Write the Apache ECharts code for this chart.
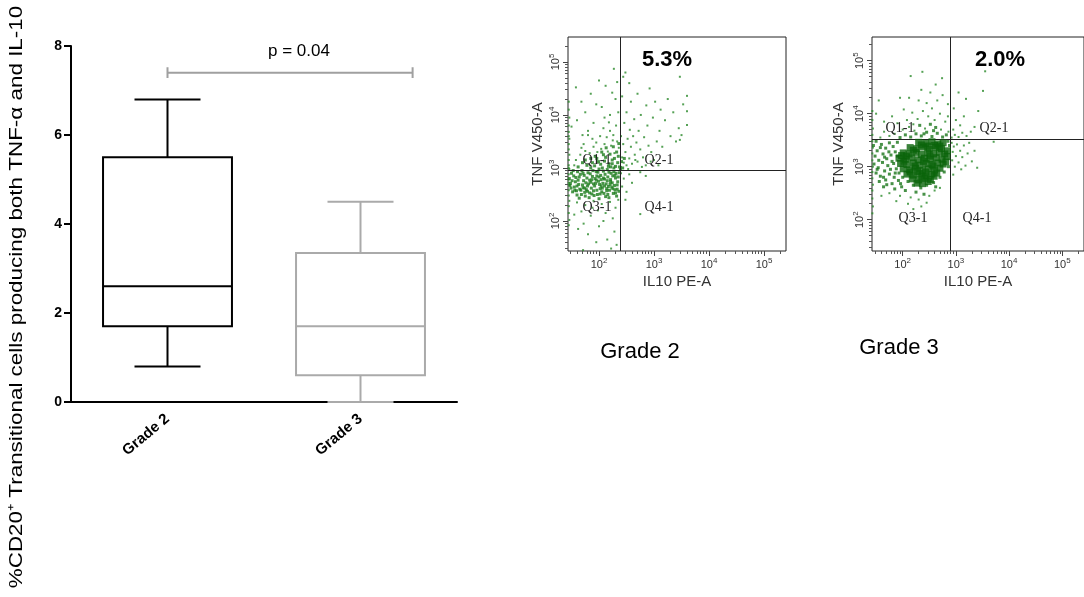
<!DOCTYPE html>
<html>
<head>
<meta charset="utf-8">
<script src="https://cdn.jsdelivr.net/npm/echarts@6/dist/echarts.min.js"></script>
<style>
  html, body { margin: 0; padding: 0; background: #fff; }
  #chart { width: 1084px; height: 597px; }
</style>
</head>
<body>
<div id="chart"></div>
<script>
// ---- Box plot: % CD20+ transitional cells producing TNF-a and IL-10 ----
const categories = ['Grade 2', 'Grade 3'];
// min, Q1, median, Q3, max
const boxStats = [
  [0.8, 1.7, 2.6, 5.5, 6.8],
  [0.0, 0.6, 1.7, 3.35, 4.5]
];
const boxColors = ['#000000', '#aaaaaa'];
const yTickMax = 8;
const yTickStep = 2;
const pText = 'p = 0.04';
const bracketLevel = 7.4;
const bracketEnds = [0, 1.27];

// ---- Flow plots (log10 fluorescence: [IL10 PE-A, TNF V450-A]) ----
const panelTitles = ['Grade 2', 'Grade 3'];
const doublePositive = ['5.3%', '2.0%'];
const quadrantNames = ['Q1-1', 'Q2-1', 'Q3-1', 'Q4-1'];
const gateG2 = [240, 890];
const gateG3 = [795, 3310];

const g2Core = [
  [1.50,2.90],[1.58,2.82],[1.66,2.88],[1.72,2.76],[1.80,2.91],[1.88,2.84],[1.95,2.93],[2.03,2.86],[2.10,2.79],[2.18,2.92],[2.25,2.85],[2.31,2.90],
  [1.48,2.71],[1.55,2.64],[1.62,2.77],[1.70,2.68],[1.77,2.59],[1.85,2.73],[1.92,2.66],[1.99,2.75],[2.06,2.62],[2.13,2.70],[2.21,2.78],[2.28,2.67],[2.34,2.74],
  [1.52,2.55],[1.60,2.49],[1.67,2.58],[1.75,2.47],[1.83,2.53],[1.90,2.57],[1.97,2.50],[2.05,2.55],[2.12,2.46],[2.19,2.58],[2.26,2.52],[2.33,2.60],
  [1.46,2.80],[1.53,2.95],[1.63,2.69],[1.69,2.95],[1.78,2.81],[1.86,2.62],[1.93,2.80],[2.01,2.69],[2.08,2.94],[2.16,2.83],[2.23,2.64],[2.30,2.81],[2.36,2.56],
  [1.57,2.74],[1.65,2.60],[1.73,2.86],[1.81,2.70],[1.89,2.95],[1.96,2.58],[2.04,2.78],[2.11,2.88],[2.17,2.65],[2.24,2.72],[2.32,2.47],
  [1.49,2.62],[1.59,2.57],[1.68,2.50],[1.76,2.72],[1.84,2.89],[1.91,2.48],[2.00,2.83],[2.07,2.71],[2.14,2.57],[2.22,2.90],[2.29,2.59],[2.35,2.83],
  [1.54,2.85],[1.61,2.93],[1.71,2.63],[1.79,2.66],[1.87,2.78],[1.94,2.71],[2.02,2.61],[2.09,2.52],[2.15,2.76],[2.20,2.69],[2.27,2.93],[1.74,2.54],
  [1.98,2.92],[2.10,2.66],[1.82,2.44],[2.00,2.42],[1.64,2.43],[2.18,2.44],
  [1.51,2.76],[1.56,2.58],[1.64,2.83],[1.71,2.90],[1.79,2.56],[1.83,2.77],[1.90,2.70],[1.96,2.85],[2.04,2.66],[2.08,2.81],[2.14,2.61],[2.21,2.74],
  [2.25,2.61],[2.29,2.86],[2.33,2.68],[2.37,2.91],[1.47,2.67],[1.60,2.66],[1.74,2.62],[1.87,2.51],[1.95,2.77],[2.02,2.51],[2.16,2.50],[2.30,2.53],
  [1.62,3.02],[1.70,3.10],[1.78,3.05],[1.85,3.18],[1.92,3.04],[1.99,3.12],[2.06,3.00],[2.12,3.20],[2.18,3.08],[2.24,3.15],[2.30,3.03],[2.35,3.22],
  [2.00,2.98],[2.15,2.97],[2.27,3.00],[1.93,3.22],[2.08,3.25],[2.34,3.10],[1.85,3.00],
  [1.88,3.10],[1.96,3.18],[2.03,3.07],[2.10,3.13],[2.21,3.02],[2.28,3.18],[2.32,3.30],[2.20,3.26],[2.13,3.38],[2.26,3.40],[2.36,3.46],[2.05,3.30],
  [1.75,3.15],[2.17,3.03],[2.37,3.02],[2.24,3.08],[2.39,2.97],[2.41,3.12],[2.43,3.00],[2.46,3.18]
];
const g2Cells = [
  // Q1, above the gate
  [1.66,3.25],[1.75,3.32],[1.83,3.28],[1.90,3.40],[1.97,3.30],[2.04,3.36],[2.10,3.45],[2.16,3.31],[2.22,3.42],[2.28,3.28],[2.33,3.50],
  [1.58,3.15],[1.88,3.55],[2.02,3.60],[2.14,3.58],[2.26,3.62],[2.36,3.38],[1.72,3.45],[1.95,3.48],[2.20,3.70],[2.31,3.80],[2.08,3.75],[1.80,3.62],
  [2.25,3.52],[1.55,3.05],[1.68,3.38],
  [1.60,3.90],[1.75,4.05],[1.90,3.85],[2.05,4.15],[2.20,4.00],[2.30,4.30],[1.68,4.25],[1.85,4.40],[2.12,4.55],[2.27,4.87],[1.95,4.20],[2.35,4.05],
  [1.58,4.52],[2.10,3.95],[2.24,4.42],[1.80,3.70],[2.00,4.65],[2.33,4.62],[1.70,3.62],[2.18,3.86],[1.50,3.78],
  // Q2
  [2.40,3.02],[2.45,3.10],[2.50,3.05],[2.42,3.20],[2.55,3.18],[2.60,3.08],[2.48,3.30],[2.65,3.25],[2.58,3.40],[2.70,3.12],[2.44,3.45],[2.52,3.55],
  [2.75,3.35],[2.62,3.60],[2.80,3.20],[2.68,3.48],[2.85,3.05],[2.40,3.60],[2.90,3.42],[2.56,3.72],[2.72,3.70],[2.95,3.30],[2.46,3.85],[2.82,3.58],
  [3.00,3.15],[2.64,3.92],[2.88,3.80],[3.05,3.50],[2.50,4.05],[2.76,4.00],[2.98,3.95],[3.10,3.70],[2.58,4.25],[2.86,4.18],[3.15,3.40],[2.42,4.35],
  [2.70,4.40],[3.02,4.25],[3.20,3.90],[2.55,4.60],[2.92,4.50],[3.30,3.60],[2.44,4.72],[3.25,4.30],[3.40,3.50],[3.53,4.20],[3.60,4.36],[3.45,3.75],
  [3.60,3.81],[3.35,4.05],[2.48,4.80],[3.12,4.10],[2.66,3.15],[2.78,3.02],[2.53,2.98],[3.08,3.05],[2.94,3.12],[3.47,4.72],[3.60,4.07],[3.50,3.62],
  [3.47,3.53],
  // Q3, below the core
  [1.60,2.35],[1.75,2.30],[1.90,2.38],[2.05,2.32],[2.20,2.36],[2.30,2.25],[1.68,2.18],[1.85,2.10],[2.12,2.15],[2.25,2.05],[1.72,1.95],[2.00,1.90],
  [2.28,1.80],[1.80,1.75],[2.15,1.65],[2.32,1.55],[1.95,1.60],[1.62,1.85],[2.22,1.48],[1.88,2.25],[2.08,2.00],[1.55,2.12],[2.35,2.40],[1.98,2.20],
  [1.71,1.45],
  // Q4
  [2.40,2.90],[2.45,2.80],[2.42,2.65],[2.55,2.88],[2.60,2.72],[2.75,2.92],[2.50,2.55],[2.85,2.85],[2.48,2.40],[2.75,2.13],
  // events piled on the low IL10 edge
  [1.45,4.25],[1.45,4.10],[1.46,3.95],[1.45,3.80],[1.45,3.68],[1.46,3.55],[1.45,3.45],[1.45,3.35],[1.46,3.25],[1.45,3.15],[1.45,3.05],[1.46,2.98],
  [1.45,2.88],[1.45,2.78],[1.46,2.68],[1.45,2.58],[1.45,2.48],[1.46,2.38],[1.45,2.28],[1.45,2.15],[1.46,2.02],[1.45,1.92],[1.45,3.60],[1.45,3.00],
  [1.45,2.72]
];

const g3Core = [
  [2.30,3.46],[2.43,3.44],[2.55,3.47],[2.66,3.43],[2.76,3.45],
  [2.14,3.36],[2.26,3.34],[2.39,3.37],[2.50,3.33],[2.62,3.36],[2.73,3.34],
  [2.01,3.26],[2.12,3.24],[2.25,3.27],[2.35,3.23],[2.47,3.26],[2.58,3.24],[2.69,3.27],[2.79,3.24],
  [1.93,3.16],[2.05,3.14],[2.17,3.17],[2.29,3.13],[2.41,3.16],[2.52,3.14],[2.63,3.17],[2.74,3.14],
  [1.96,3.06],[2.08,3.04],[2.20,3.07],[2.32,3.03],[2.44,3.06],[2.55,3.04],[2.66,3.07],[2.76,3.05],
  [2.01,2.96],[2.13,2.94],[2.24,2.97],[2.37,2.93],[2.48,2.96],[2.60,2.94],[2.70,2.97],
  [2.08,2.86],[2.20,2.84],[2.32,2.87],[2.44,2.83],[2.55,2.86],[2.64,2.88],
  [2.18,2.77],[2.30,2.75],[2.42,2.78],[2.52,2.76],
  [2.27,2.69],[2.37,2.68],
  [2.07,3.20],[2.20,3.31],[2.35,3.41],[2.47,3.39],[2.60,3.40],[2.70,3.39],[2.84,3.30],[2.83,3.19],[2.81,3.09],[2.23,3.01],[2.39,3.10],[2.51,3.20],
  [2.57,3.01],[2.28,2.91],[2.43,2.90],[2.59,2.82],[2.14,2.90],[2.02,3.10],[1.98,3.21],[2.36,2.81],[2.48,2.72]
];
const g3Mid = [
  [1.45,3.40],[1.52,3.30],[1.60,3.42],[1.68,3.35],[1.75,3.45],[1.82,3.38],[1.90,3.46],
  [1.48,3.20],[1.55,3.12],[1.63,3.24],[1.70,3.15],[1.78,3.22],[1.86,3.28],
  [1.46,3.05],[1.54,2.98],[1.62,3.08],[1.72,3.02],[1.80,3.10],[1.88,2.96],
  [1.50,2.88],[1.58,2.82],[1.66,2.92],[1.75,2.86],[1.84,2.80],[1.93,2.88],
  [1.56,2.72],[1.68,2.75],[1.80,2.68],[1.92,2.74],[2.00,2.80],[2.10,2.72],[2.20,2.65],[2.34,2.60],[2.45,2.65],[2.58,2.70],[2.70,2.80],
  [2.78,2.90],[2.86,3.00],[2.88,3.40],[2.85,3.48],[2.62,2.62],
  [1.64,2.62],[1.85,2.58],[1.98,2.62],[2.05,2.55],[2.25,2.52],[2.40,2.48],
  [1.95,3.55],[2.05,3.60],[2.15,3.56],[2.25,3.62],[2.35,3.58],[2.45,3.65],[2.55,3.57],[2.65,3.63],[2.75,3.56],[2.82,3.60],
  [2.40,3.62],[2.58,3.68],[2.32,3.78],[2.52,3.80],[2.62,3.74],
  [1.50,3.48],[1.58,3.36],[1.66,3.18],[1.74,3.28],[1.83,3.06],[1.90,3.20],[1.52,2.95],[1.64,2.80],[1.77,2.95],[1.86,2.88],[1.70,2.66],[1.96,2.68]
];
const g3Cells = [
  // Q1
  [2.00,3.70],[2.12,3.75],[2.22,3.68],[2.42,3.72],[2.72,3.70],[2.86,3.66],
  [1.85,3.62],[1.75,3.58],[1.65,3.66],[1.58,3.55],[1.90,3.82],[2.08,3.88],[2.28,3.90],[2.48,3.95],[2.60,3.88],[2.80,3.85],
  [2.18,4.02],[2.38,4.05],[2.55,4.10],[2.70,4.00],[2.02,4.08],[1.80,3.95],[2.45,4.20],[2.65,4.25],[2.30,4.25],[2.85,4.18],[2.12,4.30],[1.65,3.85],
  [1.50,4.00],[2.52,4.40],[2.75,4.35],[2.35,4.45],[1.95,4.30],[2.62,4.55],[2.15,4.71],[2.37,4.79],[2.74,4.67],[1.55,4.25],[2.85,3.95],[2.20,3.80],
  // events piled on the low IL10 edge
  [1.43,4.05],[1.43,3.88],[1.44,3.72],[1.43,3.60],[1.43,3.48],[1.44,3.36],[1.43,3.25],[1.43,3.12],[1.44,3.00],[1.43,2.90],[1.43,2.78],[1.44,2.66],
  [1.43,2.55],[1.43,2.40],[1.44,2.25],[1.43,2.12],
  // Q2
  [2.92,3.55],[2.98,3.60],[3.05,3.56],[3.12,3.64],[2.95,3.70],[3.20,3.58],[3.08,3.78],[3.28,3.66],[3.00,3.88],[3.42,4.05],[3.19,4.28],[3.51,4.43],
  [3.55,4.80],[3.35,3.75],[3.15,3.95],[2.96,4.10],[3.05,4.40],
  // Q4
  [2.92,3.45],[2.96,3.38],[3.02,3.42],[2.94,3.28],[3.00,3.20],[3.08,3.30],[2.93,3.12],[3.05,3.08],[3.12,3.18],[2.98,3.00],[3.15,3.40],[3.22,3.25],
  [3.10,2.95],[3.30,3.10],[3.40,2.98],[3.25,3.45],[2.95,2.85],[3.71,3.47],[3.18,3.02],[3.35,3.30],
  // Q3, below the core
  [1.75,2.50],[1.95,2.45],[2.15,2.42],[2.30,2.38],[2.50,2.45],[2.10,2.30],[2.35,2.25],[2.60,2.55],[1.88,2.35],[2.20,2.20],[2.45,2.32],[1.60,2.45],
  [2.70,2.60]
];

const FONT = "'Liberation Sans', Arial, Helvetica, sans-serif";
const SERIF = "'Liberation Serif', 'Times New Roman', serif";
const toLinear = pts => pts.map(([a, b]) => [Math.pow(10, a), Math.pow(10, b)]);

const majorLog = [100, 1000, 10000, 100000];
const minorLog = [];
for (let d = 1; d <= 5; d++) {
  for (let k = 2; k <= 9; k++) minorLog.push(k * Math.pow(10, d));
}

const expLabel = {
  customValues: majorLog,
  formatter: v => '{b|10}{s|' + Math.round(Math.log10(v)) + '}',
  rich: {
    b: { fontSize: 11, color: '#333', fontFamily: FONT },
    s: { fontSize: 8, color: '#333', fontFamily: FONT, padding: [0, 0, 8, 0] }
  }
};

function flowAxisPair(dim, gridIndex, lo, hi, name, gap) {
  const base = {
    type: 'log', logBase: 10, gridIndex,
    position: dim === 'x' ? 'bottom' : 'left',
    min: Math.pow(10, lo), max: Math.pow(10, hi),
    splitLine: { show: false },
    axisLine: { show: false }
  };
  const major = Object.assign({}, base, {
    name, nameLocation: 'middle', nameGap: gap,
    nameTextStyle: { fontFamily: FONT, fontSize: 15, color: '#333' },
    axisTick: { show: true, customValues: majorLog, length: 5, lineStyle: { color: '#444' } },
    axisLabel: Object.assign({ margin: dim === 'x' ? 6 : 4, rotate: dim === 'x' ? 0 : 90 }, expLabel)
  });
  if (dim === 'y') major.nameRotate = 90;
  const minor = Object.assign({}, base, {
    axisTick: { show: true, customValues: minorLog, length: 3, lineStyle: { color: '#555' } },
    axisLabel: { show: false }
  });
  return [major, minor];
}

const [g2xMaj, g2xMin] = flowAxisPair('x', 1, 1.436, 5.40, 'IL10 PE-A', 23);
const [g2yMaj, g2yMin] = flowAxisPair('y', 1, 1.434, 5.47, 'TNF V450-A', 23);
const [g3xMaj, g3xMin] = flowAxisPair('x', 2, 1.423, 5.408, 'IL10 PE-A', 23);
const [g3yMaj, g3yMin] = flowAxisPair('y', 2, 1.409, 5.447, 'TNF V450-A', 26);

function renderBox(params, api) {
  const i = api.value(0);
  const band = api.size([1, 0])[0];
  const cx = api.coord([i, 0])[0];
  const py = k => api.coord([i, api.value(k)])[1];
  const yMin = py(1), yQ1 = py(2), yMed = py(3), yQ3 = py(4), yMax = py(5);
  const hb = band * 0.334, hc = band * 0.171;
  const st = { stroke: boxColors[i], lineWidth: 2, fill: null };
  const seg = (x1, y1, x2, y2) => ({ type: 'line', shape: { x1, y1, x2, y2 }, style: st });
  return {
    type: 'group',
    children: [
      { type: 'rect', shape: { x: cx - hb, y: yQ3, width: 2 * hb, height: yQ1 - yQ3 }, style: st },
      seg(cx - hb, yMed, cx + hb, yMed),
      seg(cx, yQ3, cx, yMax),
      seg(cx, yQ1, cx, yMin),
      seg(cx - hc, yMax, cx + hc, yMax),
      seg(cx - hc, yMin, cx + hc, yMin)
    ]
  };
}

function gateLines(gate) {
  return {
    silent: true, symbol: 'none', animation: false,
    label: { show: false },
    lineStyle: { color: '#222', width: 1, type: 'solid' },
    data: [{ xAxis: gate[0] }, { yAxis: gate[1] }]
  };
}

function dots(data, xi, yi, size, color, z) {
  return {
    type: 'scatter', xAxisIndex: xi, yAxisIndex: yi,
    data: toLinear(data), symbol: 'rect', symbolSize: size,
    itemStyle: { color }, silent: true, z
  };
}

function quadText(x, y, t) {
  return {
    type: 'text', x, y, z: 50,
    style: { text: t, font: '14px ' + SERIF, fill: '#222', align: 'center', verticalAlign: 'middle', textAlign: 'center', textVerticalAlign: 'middle' }
  };
}
function plainText(x, y, t, font, fill) {
  return {
    type: 'text', x, y, z: 50,
    style: { text: t, font, fill: fill || '#000', align: 'center', verticalAlign: 'middle', textAlign: 'center', textVerticalAlign: 'middle' }
  };
}

const chart = echarts.init(document.getElementById('chart'), null, { renderer: 'canvas' });
chart.setOption({
  animation: false,
  backgroundColor: '#fff',
  grid: [
    { left: 71, top: 46, width: 386, height: 356 },
    { left: 568, top: 37, width: 218, height: 214, show: true, borderColor: '#222', borderWidth: 1 },
    { left: 872, top: 37, width: 214, height: 214, show: true, borderColor: '#222', borderWidth: 1 }
  ],
  xAxis: [
    {
      type: 'category', gridIndex: 0, data: categories, boundaryGap: true,
      axisLine: { onZero: false, lineStyle: { color: '#000', width: 2 } },
      axisTick: { alignWithLabel: true, length: 6, lineStyle: { color: '#000', width: 2 } },
      axisLabel: { rotate: 40, margin: 15, color: '#000', fontFamily: FONT, fontWeight: 'bold', fontSize: 15 },
      splitLine: { show: false }
    },
    { type: 'value', gridIndex: 0, min: -0.5, max: 1.5, show: false },
    g2xMaj, g2xMin, g3xMaj, g3xMin
  ],
  yAxis: [
    {
      type: 'value', gridIndex: 0, min: 0, max: yTickMax, interval: yTickStep,
      axisLine: { show: true, onZero: false, lineStyle: { color: '#000', width: 2 } },
      axisTick: { show: true, length: 7, lineStyle: { color: '#000', width: 2 } },
      axisLabel: { margin: 9, color: '#000', fontFamily: FONT, fontWeight: 'bold', fontSize: 14 },
      splitLine: { show: false }
    },
    g2yMaj, g2yMin, g3yMaj, g3yMin
  ],
  series: [
    {
      type: 'custom', xAxisIndex: 0, yAxisIndex: 0, z: 5,
      renderItem: renderBox,
      encode: { x: 0, y: [1, 2, 3, 4, 5] },
      data: categories.map((c, i) => [i].concat(boxStats[i])),
      silent: true
    },
    {
      type: 'line', xAxisIndex: 1, yAxisIndex: 0, symbol: 'none', silent: true, z: 5,
      lineStyle: { color: '#a0a0a0', width: 2 },
      data: [
        [bracketEnds[0], bracketLevel + 0.12], [bracketEnds[0], bracketLevel - 0.12], [bracketEnds[0], bracketLevel],
        [bracketEnds[1], bracketLevel], [bracketEnds[1], bracketLevel + 0.12], [bracketEnds[1], bracketLevel - 0.12]
      ]
    },
    Object.assign(dots(g2Cells, 2, 1, 2, '#2a8a2a', 3), { markLine: gateLines(gateG2) }),
    dots(g2Core, 2, 1, 3, '#1c7c1c', 4),
    Object.assign(dots(g3Cells, 4, 3, 2, '#2a8a2a', 3), { markLine: gateLines(gateG3) }),
    dots(g3Mid, 4, 3, 3, '#1a751a', 4),
    dots(g3Core, 4, 3, 7, '#0a640a', 5)
  ],
  graphic: [
    {
      type: 'text', x: 17, y: 297, rotation: Math.PI / 2, scaleX: 1.18, z: 50,
      style: {
        text: '%CD20\u207A Transitional cells producing both TNF-\u03B1 and IL-10',
        font: '19px ' + FONT, fill: '#000',
        align: 'center', verticalAlign: 'middle', textAlign: 'center', textVerticalAlign: 'middle'
      }
    },
    plainText(299, 51, pText, '17px ' + FONT),
    plainText(667, 60, doublePositive[0], 'bold 22px ' + FONT),
    plainText(1000, 60, doublePositive[1], 'bold 22px ' + FONT),
    quadText(597, 160, quadrantNames[0]), quadText(659, 160, quadrantNames[1]),
    quadText(597, 207, quadrantNames[2]), quadText(659, 207, quadrantNames[3]),
    quadText(900, 128, quadrantNames[0]), quadText(994, 128, quadrantNames[1]),
    quadText(913, 218, quadrantNames[2]), quadText(977, 218, quadrantNames[3]),
    plainText(640, 352, panelTitles[0], '22px ' + FONT),
    plainText(899, 348, panelTitles[1], '22px ' + FONT)
  ]
});
</script>
</body>
</html>
